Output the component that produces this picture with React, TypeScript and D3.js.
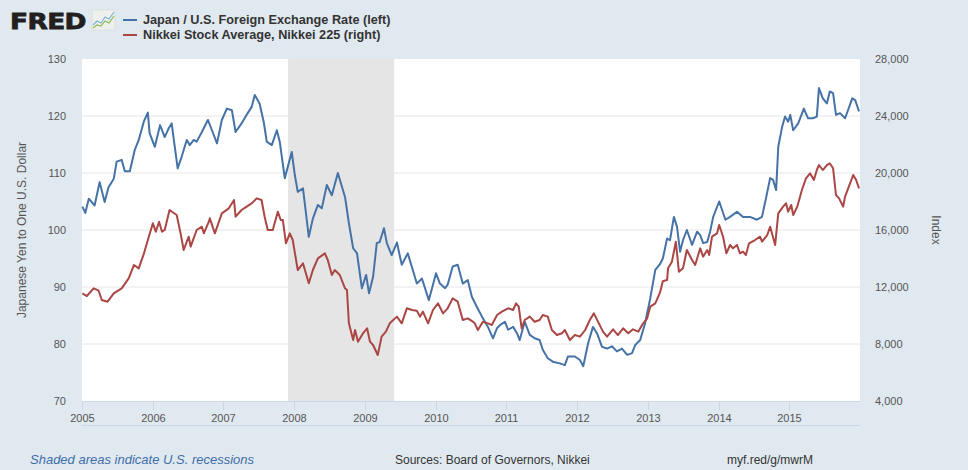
import React from "react";
import * as d3 from "d3";

const jpyDates = ["2005-01-03","2005-01-18","2005-02-05","2005-03-07","2005-04-02","2005-04-28","2005-05-18","2005-06-14","2005-06-29","2005-07-25","2005-08-10","2005-09-05","2005-09-30","2005-10-21","2005-11-16","2005-12-07","2005-12-16","2006-01-12","2006-02-08","2006-03-04","2006-03-24","2006-04-09","2006-04-25","2006-05-10","2006-05-30","2006-06-26","2006-07-11","2006-08-01","2006-08-16","2006-09-12","2006-10-13","2006-11-03","2006-11-29","2006-12-24","2007-01-19","2007-02-14","2007-03-05","2007-04-05","2007-05-01","2007-05-27","2007-06-12","2007-07-07","2007-07-28","2007-08-13","2007-09-08","2007-10-04","2007-10-19","2007-11-14","2007-12-20","2008-01-05","2008-01-20","2008-02-16","2008-03-17","2008-04-07","2008-05-03","2008-05-23","2008-06-18","2008-07-14","2008-08-14","2008-09-20","2008-10-10","2008-11-01","2008-11-21","2008-12-16","2009-01-07","2009-01-22","2009-02-12","2009-03-03","2009-03-18","2009-04-09","2009-04-24","2009-05-19","2009-06-15","2009-07-10","2009-08-10","2009-09-26","2009-10-22","2009-11-27","2010-01-03","2010-01-23","2010-02-19","2010-03-04","2010-03-30","2010-04-25","2010-05-21","2010-06-16","2010-07-07","2010-08-02","2010-09-02","2010-09-28","2010-10-24","2010-11-14","2010-11-29","2010-12-25","2011-01-10","2011-02-05","2011-02-25","2011-03-11","2011-04-06","2011-05-02","2011-05-27","2011-06-22","2011-07-08","2011-08-03","2011-08-29","2011-10-04","2011-10-30","2011-11-15","2011-12-21","2012-01-16","2012-02-02","2012-02-27","2012-03-23","2012-04-13","2012-05-09","2012-06-04","2012-06-29","2012-07-25","2012-08-20","2012-09-16","2012-10-11","2012-10-27","2012-11-22","2012-12-17","2013-01-13","2013-02-08","2013-03-04","2013-03-19","2013-04-10","2013-04-25","2013-05-15","2013-05-31","2013-06-16","2013-07-01","2013-07-21","2013-08-17","2013-09-12","2013-09-28","2013-10-13","2013-11-03","2013-11-18","2013-12-04","2014-01-04","2014-02-05","2014-03-01","2014-04-06","2014-05-07","2014-06-12","2014-07-18","2014-08-13","2014-09-04","2014-09-24","2014-10-09","2014-10-25","2014-11-05","2014-11-25","2014-12-10","2014-12-26","2015-01-06","2015-01-21","2015-02-16","2015-03-17","2015-04-08","2015-05-03","2015-05-23","2015-06-03","2015-06-23","2015-07-14","2015-07-29","2015-08-15","2015-08-30","2015-09-20","2015-10-16","2015-11-01","2015-11-22","2015-12-07","2015-12-27"];
const jpyValues = [104.1,103,105.5,104.3,108.4,104.9,107.5,109,112,112.3,110.3,110.3,114,115.8,119,120.6,117,114.6,118.4,116.3,117.8,118.7,114.6,110.8,112.8,115.8,114.9,115.8,115.5,117.2,119.3,117.5,115.2,119.3,121.3,121,117.2,118.7,120.2,121.6,123.7,122.2,119,115.5,114.9,117.5,115.5,109.1,113.7,109.6,106.7,107.3,98.8,102,104.4,103.8,107.9,106.1,110,105.8,101.2,96.8,95.9,89.8,92.1,88.9,91.8,97.7,97.9,100.3,97.7,95.6,97.8,93.9,95.9,90.6,91.5,87.7,92.4,90.6,89.8,90.4,93.6,93.9,90.6,91.2,88.3,86.5,84.5,83,81,82.8,83.3,83.9,82.5,83,81.9,80.7,83.9,81.6,81,80.7,79,77.5,76.9,76.6,76.3,77.8,77.8,77.2,76.1,80.1,83,81.9,79.5,79.2,79.6,78.7,79.2,78.1,78.4,79.8,80.7,83.6,88,93,94,95,98.5,98.2,102.3,100.6,96.2,98.2,100,97.4,99.7,99.1,97.7,97.9,99.7,102.3,105,101.8,102.3,103.2,102.3,102.3,101.8,102.3,105.8,109.1,108.8,107,114.6,118.1,119.9,119,120.2,117.5,118.7,121.3,119.6,119.6,119.9,124.9,123.1,122.2,124.3,124,120.2,120.5,119.6,121.1,123.1,122.8,120.8];

const nikkeiDates = ["2005-01-03","2005-01-26","2005-03-02","2005-03-28","2005-04-13","2005-05-13","2005-06-14","2005-07-25","2005-08-30","2005-09-26","2005-10-21","2005-11-17","2005-12-12","2006-01-02","2006-01-17","2006-02-03","2006-02-18","2006-03-04","2006-03-29","2006-05-05","2006-05-25","2006-06-10","2006-07-06","2006-07-16","2006-08-16","2006-09-12","2006-09-22","2006-10-18","2006-10-23","2006-11-18","2006-12-24","2007-01-29","2007-02-25","2007-03-05","2007-04-05","2007-05-01","2007-05-27","2007-06-22","2007-07-17","2007-08-02","2007-08-18","2007-09-13","2007-10-09","2007-10-24","2007-11-04","2007-11-20","2007-12-10","2007-12-25","2008-01-20","2008-02-16","2008-03-17","2008-04-07","2008-05-03","2008-06-08","2008-06-23","2008-07-14","2008-07-29","2008-08-24","2008-09-20","2008-09-30","2008-10-10","2008-11-01","2008-11-11","2008-11-26","2008-12-22","2009-01-12","2009-01-27","2009-02-12","2009-03-08","2009-03-28","2009-04-19","2009-05-09","2009-06-15","2009-07-10","2009-08-05","2009-09-01","2009-09-26","2009-10-12","2009-10-27","2009-11-23","2009-12-18","2010-01-13","2010-02-08","2010-03-04","2010-03-30","2010-04-25","2010-05-21","2010-06-16","2010-07-12","2010-07-22","2010-08-07","2010-09-02","2010-09-28","2010-10-18","2010-11-14","2010-12-09","2011-01-10","2011-02-05","2011-02-20","2011-03-06","2011-03-21","2011-04-06","2011-05-02","2011-05-27","2011-06-22","2011-07-08","2011-08-03","2011-08-24","2011-09-19","2011-10-15","2011-10-30","2011-11-25","2011-12-21","2012-01-16","2012-02-12","2012-03-07","2012-03-28","2012-04-18","2012-05-14","2012-06-04","2012-07-05","2012-07-30","2012-08-26","2012-09-21","2012-10-16","2012-11-12","2012-12-02","2012-12-28","2013-01-13","2013-02-08","2013-03-04","2013-03-19","2013-04-10","2013-04-15","2013-05-05","2013-05-25","2013-06-10","2013-07-01","2013-07-21","2013-08-17","2013-09-02","2013-09-28","2013-10-13","2013-11-03","2013-11-13","2013-11-28","2013-12-24","2014-01-04","2014-01-24","2014-02-10","2014-03-01","2014-03-16","2014-04-06","2014-04-21","2014-05-07","2014-05-22","2014-06-07","2014-07-08","2014-08-03","2014-08-13","2014-09-09","2014-09-24","2014-10-20","2014-11-05","2014-11-30","2014-12-15","2014-12-26","2015-01-11","2015-01-21","2015-02-11","2015-03-07","2015-03-28","2015-04-18","2015-05-08","2015-05-23","2015-06-03","2015-06-23","2015-07-14","2015-07-29","2015-08-15","2015-08-30","2015-09-15","2015-10-06","2015-10-16","2015-11-01","2015-11-27","2015-12-12","2015-12-27"];
const nikkeiValues = [11556,11367,11907,11740,11087,10970,11556,11907,12609,13543,13310,14363,15530,16470,15880,16581,15880,16000,17403,17052,15766,14596,15530,14830,16000,16230,15766,16581,16820,15766,17170,17520,18105,16933,17403,17637,17870,18222,18105,16933,16000,16000,17286,16700,16700,15066,15766,15297,13192,13660,12258,13192,14012,14363,13894,12842,13192,12842,11907,11789,9452,8280,8982,8164,8750,9100,8164,7928,7226,8515,8866,9452,9920,9452,10504,10385,10337,9920,10270,9452,10385,10855,10150,10504,11205,10970,9683,9800,9566,9450,8982,9566,9450,9335,10034,10270,10504,10385,10855,10620,9100,9683,9920,9566,9683,10034,9920,8982,8630,8750,8982,8280,8630,8515,8982,9683,10150,9566,8866,8515,9030,8630,9100,8750,9030,8866,9335,9800,10620,10855,11600,12400,12490,13310,13777,15180,13075,13310,14596,13894,13543,14713,14128,14596,14245,15530,15766,16350,15530,14363,14947,14713,14947,14363,14480,14245,15066,15297,15530,15180,15648,16230,14947,17170,17637,17870,17286,17754,17052,17637,18807,19627,19980,19510,20210,20560,20210,20560,20680,20330,18456,18222,17637,18340,18924,19860,19510,18924];

const leftTicks = [70, 80, 90, 100, 110, 120, 130];
const rightTicks = [4000, 8000, 12000, 16000, 20000, 24000, 28000];
const yearTicks = [2005, 2006, 2007, 2008, 2009, 2010, 2011, 2012, 2013, 2014, 2015];
const recession = ["2007-12-01", "2009-06-01"];
const xDomain = ["2005-01-01", "2016-01-01"];

const legendItems = ["Japan / U.S. Foreign Exchange Rate (left)", "Nikkei Stock Average, Nikkei 225 (right)"];
const leftTitle = "Japanese Yen to One U.S. Dollar";
const rightTitle = "Index";

export default function App() {
  const W = 968, H = 470;
  const M = { left: 82, right: 860, top: 59, bottom: 401 };
  const parse = d3.timeParse("%Y-%m-%d");
  const x = d3.scaleTime().domain(xDomain.map((s) => parse(s) as Date)).range([M.left, M.right]);
  const yL = d3.scaleLinear().domain([70, 130]).range([M.bottom, M.top]);
  const yR = d3.scaleLinear().domain([4000, 28000]).range([M.bottom, M.top]);
  const jpy = jpyDates.map((d, i) => ({ d: parse(d) as Date, v: jpyValues[i] }));
  const nik = nikkeiDates.map((d, i) => ({ d: parse(d) as Date, v: nikkeiValues[i] }));
  const lineL = d3.line<{ d: Date; v: number }>().x((p) => x(p.d)).y((p) => yL(p.v));
  const lineR = d3.line<{ d: Date; v: number }>().x((p) => x(p.d)).y((p) => yR(p.v));
  const fmt = d3.format(",");
  const font = "'Liberation Sans', Arial, sans-serif";
  const colors = ["#4572a7", "#aa4643"];
  const r0 = x(parse(recession[0]) as Date);
  const r1 = x(parse(recession[1]) as Date);

  return (
    <svg width={W} height={H} style={{ display: "block", position: "absolute", left: 0, top: 0 }} fontFamily={font}>
      <rect x={0} y={0} width={W} height={H} fill="#e1e9f0" />
      {/* FRED logo */}
      <text transform="translate(10,28.5) scale(1.2,1)" fontSize={22} fontWeight={900} fill="#231f20" stroke="#231f20" strokeWidth={0.8} fontFamily="'DejaVu Sans', sans-serif" letterSpacing={-0.5}>FRED</text>
      <rect x={92} y={10} width={23} height={20} fill="#eef0ee" stroke="#d3d7d3" strokeWidth={0.6} />
      <polyline points="93,25 97,21 101,23 105,17 109,19 114,12" fill="none" stroke="#7ab4d8" strokeWidth={1.2} />
      <polyline points="93,28 97,25 101,26 105,21 109,23 114,16" fill="none" stroke="#8db94c" strokeWidth={1.2} />
      {/* legend */}
      {legendItems.map((t, i) => (
        <g key={t}>
          <line x1={123} x2={137} y1={20 + i * 15} y2={20 + i * 15} stroke={colors[i]} strokeWidth={2} />
          <text x={143} y={24 + i * 15} fontSize={12.7} fontWeight="bold" fill="#333">{t}</text>
        </g>
      ))}
      {/* plot area */}
      <rect x={M.left} y={M.top} width={M.right - M.left} height={M.bottom - M.top} fill="#ffffff" />
      {leftTicks.slice(1, -1).map((t) => (
        <line key={t} x1={M.left} x2={M.right} y1={yL(t)} y2={yL(t)} stroke="#e6e6e6" strokeWidth={1} />
      ))}
      <rect x={r0} y={M.top} width={r1 - r0} height={M.bottom - M.top} fill="#e5e5e5" />
      <path d={lineL(jpy) || ""} fill="none" stroke={colors[0]} strokeWidth={2} strokeLinejoin="round" />
      <path d={lineR(nik) || ""} fill="none" stroke={colors[1]} strokeWidth={2} strokeLinejoin="round" />
      {/* x axis */}
      <line x1={M.left} x2={M.right} y1={M.bottom + 0.5} y2={M.bottom + 0.5} stroke="#ccd6eb" strokeWidth={1} />
      <line x1={M.left} x2={M.right} y1={425.5} y2={425.5} stroke="#ccd6eb" strokeWidth={1} />
      {yearTicks.map((yr) => {
        const xx = Math.round(x(new Date(yr, 0, 1))) + 0.5;
        return (
          <g key={yr}>
            <line x1={xx} x2={xx} y1={M.bottom} y2={M.bottom + 9} stroke="#ccd6eb" strokeWidth={1} />
            <text x={xx} y={422} fontSize={11} textAnchor="middle" fill="#555">{yr}</text>
          </g>
        );
      })}
      {/* left axis */}
      {leftTicks.map((t) => (
        <text key={t} x={66} y={yL(t) + 4} fontSize={11} textAnchor="end" fill="#555">{t}</text>
      ))}
      <text transform={`translate(26,${(M.top + M.bottom) / 2}) rotate(-90)`} fontSize={12} textAnchor="middle" fill="#555">{leftTitle}</text>
      {/* right axis */}
      {rightTicks.map((t) => (
        <text key={t} x={875} y={yR(t) + 4} fontSize={11} textAnchor="start" fill="#555">{fmt(t)}</text>
      ))}
      <text transform={`translate(932,${(M.top + M.bottom) / 2}) rotate(90)`} fontSize={12} textAnchor="middle" fill="#555">{rightTitle}</text>
      {/* footer */}
      <text x={30} y={464} fontSize={13} fontStyle="italic" fill="#3e6ea9">Shaded areas indicate U.S. recessions</text>
      <text x={395} y={464} fontSize={12} fill="#333">Sources: Board of Governors, Nikkei</text>
      <text x={727} y={464} fontSize={12} fill="#333">myf.red/g/mwrM</text>
    </svg>
  );
}
